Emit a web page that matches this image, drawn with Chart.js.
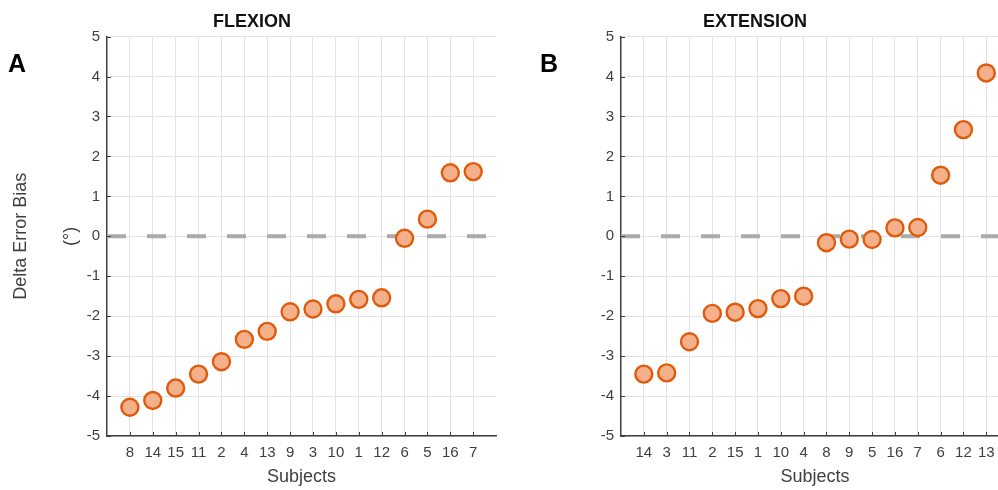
<!DOCTYPE html>
<html>
<head>
<meta charset="utf-8">
<script src="https://cdn.jsdelivr.net/npm/chart.js@4"></script>
<style>
  html, body { margin: 0; padding: 0; background: #fff; }
  body { width: 998px; height: 490px; overflow: hidden; position: relative; font-family: "Liberation Sans", Arial, sans-serif; }
  .panel { position: absolute; top: 0; height: 490px; }
  #flexWrap { left: 0; width: 507px; }
  #extWrap { left: 500px; width: 520px; }
  .tag { position: absolute; top: 49px; font-weight: bold; font-size: 25px; color: #000; }
</style>
</head>
<body>
<div class="panel" id="flexWrap"><canvas id="flexChart"></canvas></div>
<div class="panel" id="extWrap"><canvas id="extChart"></canvas></div>
<div class="tag" style="left:8px">A</div>
<div class="tag" style="left:540px">B</div>

<script>
// subject order (x tick labels) and delta error bias values, one array per panel
const flexSubjects = ["8", "14", "15", "11", "2", "4", "13", "9", "3", "10", "1", "12", "6", "5", "16", "7"];
const flexValues = [-4.28, -4.11, -3.80, -3.45, -3.14, -2.58, -2.38, -1.89, -1.82, -1.69, -1.58, -1.54, -0.05, 0.43, 1.59, 1.62];

const extSubjects = ["14", "3", "11", "2", "15", "1", "10", "4", "8", "9", "5", "16", "7", "6", "12", "13"];
const extValues = [-3.45, -3.42, -2.64, -1.93, -1.90, -1.81, -1.56, -1.50, -0.16, -0.07, -0.08, 0.21, 0.22, 1.53, 2.67, 4.09];

const yTicks = [-5, -4, -3, -2, -1, 0, 1, 2, 3, 4, 5];

const FONT = "'Liberation Sans', Arial, sans-serif";
const TEXT_GRAY = '#404040';

// small inward tick marks like matlab axes
const innerTicks = {
  id: 'innerTicks',
  afterDraw(chart) {
    const { ctx, chartArea, scales } = chart;
    ctx.save();
    ctx.strokeStyle = '#404040';
    ctx.lineWidth = 1;
    ctx.beginPath();
    yTicks.forEach(v => {
      const y = Math.round(scales.y.getPixelForValue(v)) + 0.5;
      ctx.moveTo(chartArea.left, y);
      ctx.lineTo(chartArea.left + 4, y);
    });
    for (let i = 1; i <= 16; i++) {
      const x = Math.round(scales.x.getPixelForValue(i)) + 0.5;
      ctx.moveTo(x, chartArea.bottom);
      ctx.lineTo(x, chartArea.bottom - 4);
    }
    ctx.stroke();
    ctx.restore();
  }
};

function makeChart(canvasId, title, subjects, values, opts) {
  const points = values.map((v, i) => ({ x: i + 1, y: v }));
  const ctx = document.getElementById(canvasId).getContext('2d');
  return new Chart(ctx, {
    type: 'scatter',
    data: {
      datasets: [
        {
          label: title,
          data: points,
          pointRadius: 8.5,
          pointHoverRadius: 8.5,
          pointBorderWidth: 2.4,
          pointBackgroundColor: '#F4B08A',
          pointBorderColor: '#E05A0C',
          order: 0
        },
        {
          type: 'line',
          label: 'zero',
          data: [{ x: 0, y: 0 }, { x: 17, y: 0 }],
          borderColor: '#ABABAB',
          borderWidth: 4,
          borderDash: [19, 21],
          pointRadius: 0,
          order: 1
        }
      ]
    },
    options: {
      responsive: false,
      animation: false,
      layout: { padding: { left: 0, right: opts.padRight, top: 0, bottom: 0 } },
      plugins: {
        legend: { display: false },
        tooltip: { enabled: false },
        title: {
          display: true,
          text: title,
          color: '#111',
          font: { family: FONT, size: 18, weight: 'bold', lineHeight: 1.2 },
          padding: { top: 11, bottom: 4 }
        }
      },
      scales: {
        x: {
          type: 'linear',
          min: 0,
          max: 17,
          afterFit(scale) { scale.height = 54; },
          ticks: {
            stepSize: 1,
            autoSkip: false,
            maxRotation: 0,
            padding: 8,
            color: TEXT_GRAY,
            font: { family: FONT, size: 15 },
            callback: (v) => (v >= 1 && v <= 16) ? subjects[v - 1] : ''
          },
          grid: {
            drawTicks: false,
            color: (c) => (c.tick && c.tick.value >= 1 && c.tick.value <= 16) ? '#E3E3E3' : 'rgba(0,0,0,0)'
          },
          border: { color: '#404040', width: 1.5 },
          title: {
            display: true,
            text: 'Subjects',
            color: TEXT_GRAY,
            font: { family: FONT, size: 18, lineHeight: 1.2 },
            padding: { top: 0, bottom: 2 }
          }
        },
        y: {
          min: -5,
          max: 5,
          afterFit(scale) { scale.width = opts.yWidth; },
          ticks: {
            stepSize: 1,
            padding: 7,
            color: TEXT_GRAY,
            font: { family: FONT, size: 15 }
          },
          grid: { drawTicks: false, color: '#E3E3E3' },
          border: { color: '#404040', width: 1.5 },
          title: opts.yTitle ? {
            display: true,
            text: ['Delta Error Bias', '(°)'],
            color: TEXT_GRAY,
            font: { family: FONT, size: 18, lineHeight: '50px' },
            padding: { top: -4, bottom: 0 }
          } : { display: false }
        }
      }
    },
    plugins: [innerTicks]
  });
}

function sizeCanvas(id, w, h) {
  const c = document.getElementById(id);
  c.width = w; c.height = h;
  c.style.width = w + 'px'; c.style.height = h + 'px';
}

sizeCanvas('flexChart', 507, 490);
sizeCanvas('extChart', 520, 490);

makeChart('flexChart', 'FLEXION', flexSubjects, flexValues, { yWidth: 107, padRight: 3, yTitle: true });
makeChart('extChart', 'EXTENSION', extSubjects, extValues, { yWidth: 121, padRight: 10, yTitle: false });
</script>
</body>
</html>
